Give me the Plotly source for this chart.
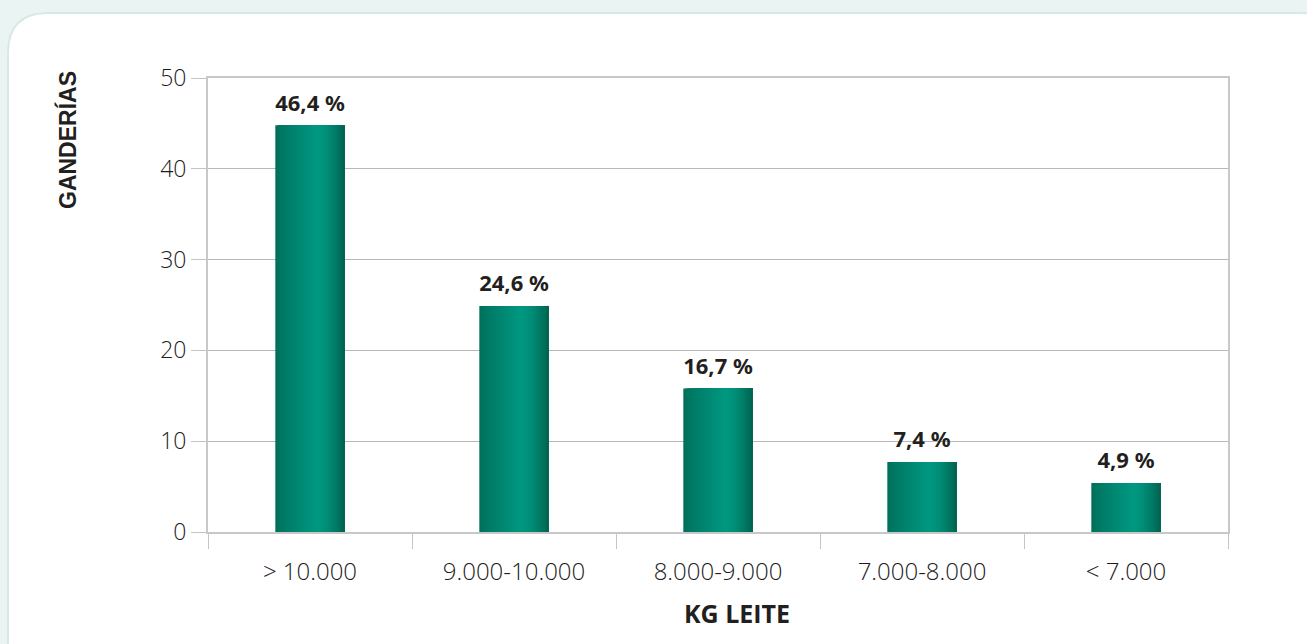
import plotly.graph_objects as go

categories = ["> 10.000", "9.000-10.000", "8.000-9.000", "7.000-8.000", "< 7.000"]
values = [44.8, 24.9, 15.8, 7.7, 5.4]
labels = ["46,4 %", "24,6 %", "16,7 %", "7,4 %", "4,9 %"]
y_ticks = [0, 10, 20, 30, 40, 50]

W, H = 1307, 644
L, R, T, B = 208, 79, 78, 112
pw, ph = W - L - R, H - T - B

def px(x):
    return (x - L) / pw

def py(y):
    return (H - B - y) / ph

# horizontal shading for the bars: stacked slices going dark -> light -> dark,
# each one runs to the right edge of the bar so there are no seams
bar_w = 0.34
n_slices = 34
left_c, mid_c, right_c = (0, 110, 90), (0, 151, 128), (0, 98, 78)
peak = 0.6

def mix(a, b, t):
    return "rgb(%d,%d,%d)" % tuple(round(a[i] + (b[i] - a[i]) * t) for i in range(3))

fig = go.Figure()
sw = bar_w / n_slices
for k in range(n_slices):
    t = (k + 0.5) / n_slices
    if t < peak:
        col = mix(left_c, mid_c, (t / peak) ** 0.8)
    else:
        col = mix(mid_c, right_c, ((t - peak) / (1 - peak)) ** 1.6)
    fig.add_trace(go.Bar(
        x=categories, y=values,
        offset=-bar_w / 2 + k * sw, width=bar_w - k * sw,
        marker=dict(color=col, line=dict(width=0)),
        hoverinfo="skip", showlegend=False,
    ))

fig.add_trace(go.Scatter(
    x=categories, y=values, mode="markers+text", text=labels,
    textposition="top center",
    marker=dict(size=13, opacity=0),
    textfont=dict(family="Noto Sans", size=22, color="#231f20", weight="bold"),
    showlegend=False, hoverinfo="skip",
))

# white rounded panel
r = 40
x0, x1, y0, y1 = 8, 1340, 13, 680
path = (
    f"M {px(x0)},{py(y0 + r)} "
    f"Q {px(x0)},{py(y0)} {px(x0 + r)},{py(y0)} "
    f"L {px(x1 - r)},{py(y0)} "
    f"Q {px(x1)},{py(y0)} {px(x1)},{py(y0 + r)} "
    f"L {px(x1)},{py(y1 - r)} "
    f"Q {px(x1)},{py(y1)} {px(x1 - r)},{py(y1)} "
    f"L {px(x0 + r)},{py(y1)} "
    f"Q {px(x0)},{py(y1)} {px(x0)},{py(y1 - r)} Z"
)
fig.add_shape(type="path", path=path, xref="paper", yref="paper",
              fillcolor="white", line=dict(color="#d6e9e6", width=2), layer="below")

fig.add_annotation(text="<b>GANDERÍAS</b>", xref="paper", yref="paper",
                   x=px(68), y=py(140), xanchor="center", yanchor="middle",
                   textangle=-90, showarrow=False,
                   font=dict(family="Liberation Sans", size=23, color="#231f20"))
fig.add_annotation(text="<b>KG LEITE</b>", xref="paper", yref="paper",
                   x=px(737), y=py(613), xanchor="center", yanchor="middle",
                   showarrow=False,
                   font=dict(family="Open Sans", size=25, color="#231f20"))

fig.update_layout(
    width=W, height=H,
    margin=dict(l=L, r=R, t=T, b=B),
    barmode="overlay",
    paper_bgcolor="#eaf4f2",
    plot_bgcolor="#daecea",
    font=dict(family="Open Sans", size=22, color="#231f20"),
    xaxis=dict(
        tickson="boundaries", ticks="outside", ticklen=15, tickcolor="#c4c4c4",
        showgrid=False, showline=True, linecolor="#c8c8c8", linewidth=2, mirror=True,
        tickfont=dict(family="Open Sans", size=24, color="#1e1b1c", weight=300),
        ticklabelstandoff=17,
    ),
    yaxis=dict(
        range=[0, 50], tickvals=y_ticks, ticks="outside", ticklen=15,
        tickcolor="#c4c4c4", gridcolor="#b8b8b8", gridwidth=1,
        showline=True, linecolor="#c8c8c8", linewidth=2, mirror=True,
        zeroline=False, ticklabelstandoff=0,
        tickfont=dict(family="Open Sans", size=23, color="#1e1b1c", weight=300),
    ),
)

fig.write_html("out.html", config={"displayModeBar": False},
               post_script="document.body.style.margin='0';")
